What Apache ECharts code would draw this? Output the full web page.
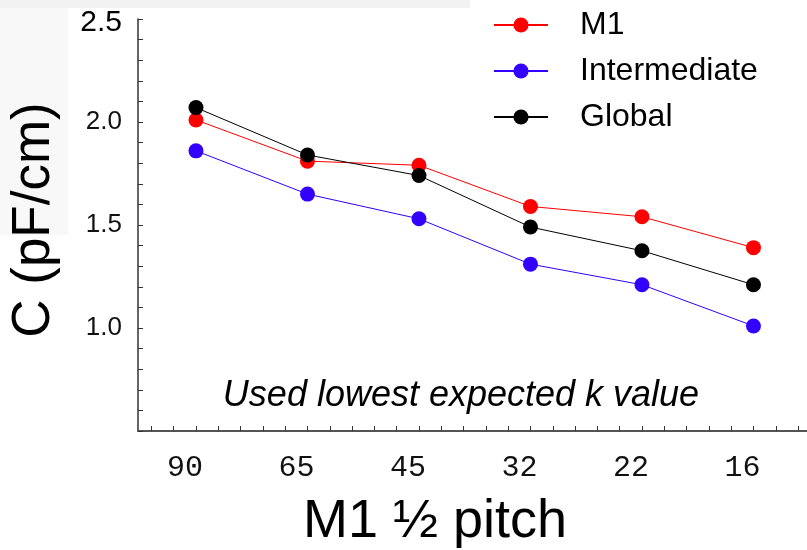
<!DOCTYPE html>
<html>
<head>
<meta charset="utf-8">
<script src="https://cdn.jsdelivr.net/npm/echarts@6/dist/echarts.min.js"></script>
<style>
  html, body { margin: 0; padding: 0; background: #fff; }
  #main { width: 807px; height: 550px; }
</style>
</head>
<body>
<div id="main"></div>
<script>
// M1 half pitch (nm), left to right
const categories = ['90', '65', '45', '32', '22', '16'];
// capacitance, pF/cm
const m1Values = [2.01, 1.81, 1.79, 1.59, 1.54, 1.39];
const intermediateValues = [1.86, 1.65, 1.53, 1.31, 1.21, 1.01];
const globalValues = [2.07, 1.84, 1.74, 1.49, 1.375, 1.21];
const yTickLabels = [1.0, 1.5, 2.0, 2.5];

const chart = echarts.init(document.getElementById('main'));

// x ticks every fifth of a category step
const xTicks = [];
for (let k = -2; k <= 27; k++) xTicks.push(+(k * 0.2).toFixed(1));

const toPairs = arr => arr.map((v, i) => [i, v]);

const seriesStyle = (name, color, values) => ({
  name: name,
  type: 'line',
  data: toPairs(values),
  symbol: 'circle',
  symbolSize: 15,
  lineStyle: { color: color, width: 1 },
  itemStyle: { color: color },
  emphasis: { disabled: true }
});

const option = {
  animation: false,
  backgroundColor: '#fff',
  grid: { left: 138, right: 0, top: 19, bottom: 119 },
  legend: {
    data: ['M1', 'Intermediate', 'Global'],
    orient: 'vertical',
    left: 488,
    top: 2,
    itemWidth: 54,
    itemHeight: 19,
    itemGap: 10,
    lineStyle: { width: 2 },
    textStyle: {
      fontFamily: 'Liberation Sans',
      fontSize: 32,
      color: '#000',
      lineHeight: 36,
      padding: [0, 0, 0, 27]
    }
  },
  xAxis: {
    type: 'value',
    min: -0.52,
    max: 5.48,
    splitLine: { show: false },
    axisLine: { onZero: false, lineStyle: { color: '#555', width: 2 } },
    axisTick: {
      inside: true,
      length: 5,
      customValues: xTicks,
      lineStyle: { color: '#333' }
    },
    axisLabel: {
      customValues: [0, 1, 2, 3, 4, 5],
      formatter: v => categories[Math.round(v)],
      fontFamily: 'Liberation Mono',
      fontSize: 30,
      color: '#111',
      margin: 22,
      padding: [0, 22, 0, 0]
    }
  },
  yAxis: {
    type: 'value',
    min: 0.5,
    max: 2.5,
    interval: 0.5,
    splitLine: { show: false },
    axisLine: { show: true, onZero: false, lineStyle: { color: '#333', width: 1.5 } },
    axisTick: { show: true, inside: true, length: 5, lineStyle: { color: '#333' } },
    minorTick: { show: true, splitNumber: 5, length: 5, lineStyle: { color: '#333' } },
    axisLabel: {
      customValues: yTickLabels,
      formatter: v => (Math.abs(v - 2.5) < 1e-6 ? '{top|2.5}' : v.toFixed(1)),
      fontFamily: 'Liberation Sans',
      fontSize: 26,
      color: '#111',
      margin: 16,
      rich: {
        top: { fontFamily: 'Liberation Sans', fontSize: 30, color: '#000', padding: [8, 0, 0, 0] }
      }
    }
  },
  graphic: [
    { type: 'rect', silent: true, z: -10, shape: { x: 0, y: 0, width: 68, height: 235 }, style: { fill: '#f8f8f8' } },
    { type: 'rect', silent: true, z: -10, shape: { x: 0, y: 0, width: 470, height: 8 }, style: { fill: '#f2f2f2' } },
    {
      type: 'text', silent: true, x: 34, y: 220, rotation: Math.PI / 2,
      style: { text: 'C (pF/cm)', font: '53px "Liberation Sans"', fill: '#000', align: 'center', verticalAlign: 'middle' }
    },
    {
      type: 'text', silent: true, x: 435, y: 522,
      style: { text: 'M1 ½ pitch', font: '54px "Liberation Sans"', fill: '#000', align: 'center', verticalAlign: 'middle' }
    },
    {
      type: 'text', silent: true, x: 461, y: 396,
      style: { text: 'Used lowest expected k value', font: 'italic 36px "Liberation Sans"', fill: '#000', align: 'center', verticalAlign: 'middle' }
    }
  ],
  series: [
    seriesStyle('Intermediate', '#3300ff', intermediateValues),
    seriesStyle('M1', '#ff0000', m1Values),
    seriesStyle('Global', '#000000', globalValues)
  ]
};

chart.setOption(option);
</script>
</body>
</html>
